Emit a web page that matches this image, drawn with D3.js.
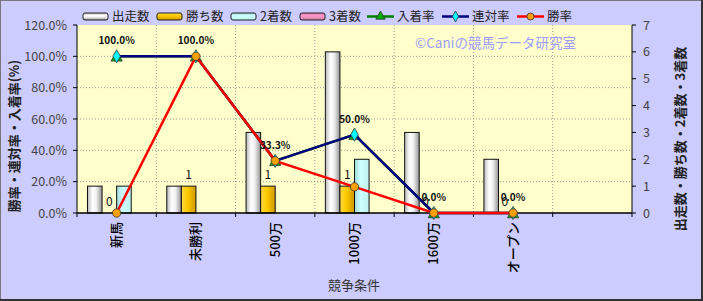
<!DOCTYPE html>
<html>
<head>
<meta charset="utf-8">
<script src="https://cdn.jsdelivr.net/npm/d3@7"></script>
<style>
  body { margin: 0; background: #fff; }
  text { font-family: "Noto Sans CJK JP", "Noto Sans", sans-serif; }
</style>
</head>
<body>
<svg id="chart" width="703" height="301"></svg>
<script>
const categories = ["新馬", "未勝利", "500万", "1000万", "1600万", "オープン"];
const starts = [1, 1, 3, 6, 3, 2];
const wins = [0, 1, 1, 1, 0, 0];
const seconds = [1, 0, 0, 2, 0, 0];
const thirds = [0, 0, 0, 0, 0, 0];
const placeRate = [100, 100, 33.3, 50, 0, 0];
const rentaiRate = [100, 100, 33.3, 50, 0, 0];
const winRate = [0, 100, 33.3, 16.7, 0, 0];
const leftTicks = [0, 20, 40, 60, 80, 100, 120];
const rightTicks = [0, 1, 2, 3, 4, 5, 6, 7];

const W = 703, H = 301;
const plot = { left: 77, right: 632, top: 25, bottom: 213 };

const svg = d3.select("#chart");
const defs = svg.append("defs");

// cylinder-like gradients for the bars
const grad = (id, stops, vertical) => {
  const g = defs.append("linearGradient").attr("id", id)
    .attr("x1", 0).attr("y1", 0)
    .attr("x2", vertical ? 0 : 1).attr("y2", vertical ? 1 : 0);
  stops.forEach(s => g.append("stop").attr("offset", s[0]).attr("stop-color", s[1]));
};
const barStops = {
  starts: [[0, "#b8b8b8"], [0.35, "#ffffff"], [0.6, "#f0f0f0"], [1, "#949494"]],
  wins: [[0, "#ffd84a"], [0.4, "#ffcc00"], [1, "#d09800"]],
  seconds: [[0, "#a0d8d8"], [0.4, "#ccffff"], [1, "#c0f0f0"]],
  thirds: [[0, "#e080b0"], [0.4, "#ff99cc"], [1, "#d080a8"]]
};
Object.keys(barStops).forEach(k => {
  grad("g-" + k, barStops[k], false);
  grad("gl-" + k, barStops[k], true);
});

// background
svg.append("rect").attr("width", W).attr("height", H).attr("fill", "#ccccff");
svg.append("rect").attr("x", 0.5).attr("y", 0.5).attr("width", W - 2).attr("height", H - 2)
  .attr("fill", "none").attr("stroke", "#777");
svg.append("line").attr("x1", W - 1).attr("x2", W - 1).attr("y1", 0).attr("y2", H)
  .attr("stroke", "#333").attr("stroke-width", 2);
svg.append("line").attr("x1", 0).attr("x2", W).attr("y1", H - 1).attr("y2", H - 1)
  .attr("stroke", "#333").attr("stroke-width", 2);

svg.append("rect")
  .attr("x", plot.left).attr("y", plot.top)
  .attr("width", plot.right - plot.left).attr("height", plot.bottom - plot.top)
  .attr("fill", "#ffffcc");

const x = d3.scaleBand()
  .domain(categories.concat([" "]))
  .range([plot.left, plot.right]);

const seriesKeys = ["starts", "wins", "seconds", "thirds"];
const xs = d3.scaleBand()
  .domain(seriesKeys)
  .range([0, x.bandwidth()])
  .paddingOuter(0.72);

const yL = d3.scaleLinear().domain([0, 120]).range([plot.bottom, plot.top]);
const yR = d3.scaleLinear().domain([0, 7]).range([plot.bottom, plot.top]);

// gridlines
const grid = svg.append("g").attr("stroke", "#999").attr("stroke-dasharray", "1,2");
grid.selectAll(".hg").data(leftTicks.slice(1, -1)).enter().append("line")
  .attr("x1", plot.left).attr("x2", plot.right)
  .attr("y1", d => yL(d)).attr("y2", d => yL(d));
grid.selectAll(".vg").data(x.domain().slice(1)).enter().append("line")
  .attr("x1", d => x(d)).attr("x2", d => x(d))
  .attr("y1", plot.top).attr("y2", plot.bottom);

// watermark
svg.append("text")
  .attr("x", 415).attr("y", 48)
  .attr("font-size", 13.5)
  .attr("fill", "#9d9dff")
  .text("©Caniの競馬データ研究室");

// bars
const barData = { starts, wins, seconds, thirds };
seriesKeys.forEach(k => {
  svg.append("g").selectAll("rect")
    .data(categories.map((c, i) => ({ c, v: barData[k][i] })).filter(d => d.v > 0))
    .enter().append("rect")
    .attr("x", d => x(d.c) + xs(k))
    .attr("y", d => yR(d.v))
    .attr("width", xs.bandwidth())
    .attr("height", d => plot.bottom - yR(d.v))
    .attr("fill", "url(#g-" + k + ")")
    .attr("stroke", "#111").attr("stroke-width", 1);
});

// wins labels
svg.append("g").selectAll("text")
  .data(categories.map((c, i) => ({ c, v: wins[i] })))
  .enter().append("text")
  .attr("x", d => x(d.c) + xs("wins") + xs.bandwidth() / 2 - (d.v === 0 && wins.indexOf(0) !== categories.indexOf(d.c) ? 1 : 0))
  .attr("y", d => yR(d.v) - 7)
  .attr("text-anchor", "middle")
  .attr("font-size", 12)
  .attr("fill", "#111")
  .text(d => d.v);

// axes
const axisColor = "#000";
svg.append("line").attr("x1", plot.left).attr("x2", plot.left)
  .attr("y1", plot.top).attr("y2", plot.bottom).attr("stroke", axisColor);
svg.append("line").attr("x1", plot.right).attr("x2", plot.right)
  .attr("y1", plot.top).attr("y2", plot.bottom).attr("stroke", axisColor);
svg.append("line").attr("x1", plot.left).attr("x2", plot.right)
  .attr("y1", plot.bottom).attr("y2", plot.bottom).attr("stroke", axisColor).attr("stroke-width", 1.5);

const leftAxis = svg.append("g");
leftAxis.selectAll("line").data(leftTicks).enter().append("line")
  .attr("x1", plot.left - 4).attr("x2", plot.left)
  .attr("y1", d => yL(d)).attr("y2", d => yL(d)).attr("stroke", axisColor);
leftAxis.selectAll("text").data(leftTicks).enter().append("text")
  .attr("x", 67).attr("y", d => yL(d) + 4.5)
  .attr("text-anchor", "end").attr("font-size", 12.5).attr("fill", "#444")
  .attr("font-family", "'Liberation Sans', Arial, sans-serif")
  .text(d => d.toFixed(1) + "%");

const rightAxis = svg.append("g");
rightAxis.selectAll("line").data(rightTicks).enter().append("line")
  .attr("x1", plot.right).attr("x2", plot.right + 4)
  .attr("y1", d => yR(d)).attr("y2", d => yR(d)).attr("stroke", axisColor);
rightAxis.selectAll("text").data(rightTicks).enter().append("text")
  .attr("x", 643).attr("y", d => yR(d) + 4.5)
  .attr("font-size", 12.5).attr("fill", "#444")
  .attr("font-family", "'Liberation Sans', Arial, sans-serif")
  .text(d => d);

svg.append("g").selectAll("line").data(x.domain()).enter().append("line")
  .attr("x1", d => x(d)).attr("x2", d => x(d))
  .attr("y1", plot.bottom).attr("y2", plot.bottom + 4).attr("stroke", axisColor);
svg.append("line").attr("x1", plot.right).attr("x2", plot.right)
  .attr("y1", plot.bottom).attr("y2", plot.bottom + 4).attr("stroke", axisColor);

svg.append("g").selectAll("text").data(categories).enter().append("text")
  .attr("transform", d => `translate(${x(d) + x.bandwidth() / 2 + 4.5},${plot.bottom + 9}) rotate(-90)`)
  .attr("text-anchor", "end")
  .attr("font-size", 13).attr("font-weight", 500).attr("fill", "#000")
  .text(d => d);

// axis titles
svg.append("text")
  .attr("transform", "translate(19,136) rotate(-90)")
  .attr("text-anchor", "middle").attr("font-size", 13).attr("font-weight", "bold").attr("fill", "#222")
  .text("勝率・連対率・入着率(%)");
svg.append("text")
  .attr("transform", "translate(685,139) rotate(-90)")
  .attr("text-anchor", "middle").attr("font-size", 13).attr("font-weight", "bold").attr("fill", "#222")
  .text("出走数・勝ち数・2着数・3着数");
svg.append("text")
  .attr("x", 354).attr("y", 290)
  .attr("text-anchor", "middle").attr("font-size", 13).attr("fill", "#333")
  .text("競争条件");

// lines
const cx = c => x(c) + x.bandwidth() / 2;
const lineSeries = [
  { name: "入着率", values: placeRate, color: "#008000", marker: "triangle", fill: "#00b000" },
  { name: "連対率", values: rentaiRate, color: "#000080", marker: "diamond", fill: "#00ffff" },
  { name: "勝率", values: winRate, color: "#ff0000", marker: "circle", fill: "#ffa000" }
];
const symbolOf = m => m === "triangle" ? d3.symbolTriangle : m === "diamond" ? d3.symbolDiamond : d3.symbolCircle;
const sizeOf = m => m === "triangle" ? 55 : m === "diamond" ? 50 : 55;

const line = d3.line().x(d => cx(d.c)).y(d => yL(d.v));
lineSeries.forEach(s => {
  const pts = categories.map((c, i) => ({ c, v: s.values[i] }));
  svg.append("path").datum(pts)
    .attr("d", line).attr("fill", "none")
    .attr("stroke", s.color).attr("stroke-width", 2.5);
  svg.append("g").selectAll("path").data(pts).enter().append("path")
    .attr("transform", d => `translate(${cx(d.c)},${yL(d.v) + (s.marker === "triangle" ? 1.5 : 0)})`)
    .attr("d", d3.symbol().type(symbolOf(s.marker)).size(sizeOf(s.marker)))
    .attr("fill", s.fill).attr("stroke", "#333").attr("stroke-width", 0.8);
});

// rate labels
svg.append("g").selectAll("text")
  .data(categories.map((c, i) => ({ c, v: rentaiRate[i] })))
  .enter().append("text")
  .attr("x", d => cx(d.c)).attr("y", d => yL(d.v) - 12)
  .attr("text-anchor", "middle")
  .attr("font-size", 10).attr("font-weight", "bold").attr("fill", "#111")
  .attr("font-family", "'Liberation Sans', Arial, sans-serif")
  .text(d => d.v.toFixed(1) + "%");

// legend
const legend = svg.append("g");
const barLegend = [
  { key: "starts", label: "出走数", x: 83 },
  { key: "wins", label: "勝ち数", x: 157 },
  { key: "seconds", label: "2着数", x: 231 },
  { key: "thirds", label: "3着数", x: 300 }
];
barLegend.forEach(b => {
  legend.append("rect")
    .attr("x", b.x).attr("y", 13).attr("width", 25).attr("height", 7)
    .attr("rx", 2).attr("fill", "url(#gl-" + b.key + ")")
    .attr("stroke", "#222");
  legend.append("text").attr("x", b.x + 29).attr("y", 21)
    .attr("font-size", 12.5).attr("fill", "#222").text(b.label);
});
const lineLegendX = [367, 442, 517];
lineSeries.forEach((s, i) => {
  const lx = lineLegendX[i];
  legend.append("line").attr("x1", lx).attr("x2", lx + 27)
    .attr("y1", 16.5).attr("y2", 16.5)
    .attr("stroke", s.color).attr("stroke-width", 2.5);
  legend.append("path")
    .attr("transform", `translate(${lx + 13.5},16.5)`)
    .attr("d", d3.symbol().type(symbolOf(s.marker)).size(sizeOf(s.marker) * 0.7))
    .attr("fill", s.fill).attr("stroke", "#333").attr("stroke-width", 0.8);
  legend.append("text").attr("x", lx + 30).attr("y", 21)
    .attr("font-size", 12.5).attr("fill", "#222").text(s.name);
});
</script>
</body>
</html>
